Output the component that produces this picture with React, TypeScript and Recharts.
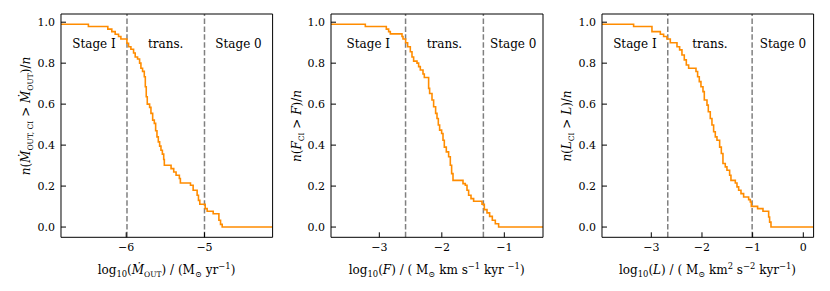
import React from "react"
import { LineChart, Line, XAxis, YAxis, ReferenceLine, ReferenceArea } from "recharts"

// ---- data (log10 value where the fraction steps, fraction after the step)
const mdotX = [-6.833, -6.483, -6.235, -6.184, -6.141, -6.098, -6.068, -5.991, -5.97, -5.94, -5.906, -5.885, -5.855, -5.829, -5.812, -5.791, -5.769, -5.756, -5.744, -5.731, -5.701, -5.684, -5.662, -5.641, -5.624, -5.607, -5.59, -5.573, -5.556, -5.538, -5.521, -5.513, -5.427, -5.393, -5.363, -5.321, -5.308, -5.179, -5.145, -5.094, -5.077, -5.06, -4.991, -4.966, -4.889, -4.816, -4.795, -4.774, -4.13]
const mdotFrac = [0.99, 0.979, 0.966, 0.954, 0.941, 0.93, 0.918, 0.897, 0.88, 0.868, 0.85, 0.83, 0.82, 0.8, 0.775, 0.76, 0.734, 0.685, 0.636, 0.6, 0.584, 0.555, 0.522, 0.506, 0.47, 0.44, 0.416, 0.395, 0.375, 0.356, 0.33, 0.302, 0.285, 0.269, 0.253, 0.237, 0.215, 0.204, 0.18, 0.155, 0.13, 0.111, 0.09, 0.077, 0.065, 0.033, 0.013, 0, 0]

const forceX = [-3.773, -3.224, -2.888, -2.851, -2.824, -2.637, -2.621, -2.579, -2.547, -2.504, -2.477, -2.451, -2.397, -2.371, -2.344, -2.301, -2.28, -2.211, -2.195, -2.157, -2.131, -2.099, -2.077, -2.056, -2.035, -2.003, -1.981, -1.96, -1.928, -1.891, -1.864, -1.843, -1.821, -1.661, -1.624, -1.597, -1.571, -1.533, -1.491, -1.357, -1.32, -1.277, -1.235, -1.192, -1.144, -1.091, -0.381]
const forceFrac = [0.99, 0.979, 0.966, 0.954, 0.943, 0.93, 0.918, 0.9, 0.88, 0.856, 0.83, 0.81, 0.8, 0.783, 0.767, 0.747, 0.73, 0.677, 0.652, 0.62, 0.587, 0.555, 0.53, 0.498, 0.473, 0.457, 0.424, 0.39, 0.367, 0.343, 0.302, 0.261, 0.228, 0.212, 0.204, 0.18, 0.155, 0.139, 0.126, 0.111, 0.085, 0.069, 0.052, 0.033, 0.016, 0, 0]

const lumX = [-3.974, -3.349, -2.987, -2.822, -2.757, -2.691, -2.625, -2.493, -2.441, -2.395, -2.349, -2.309, -2.263, -2.118, -2.086, -2.053, -2.02, -1.98, -1.954, -1.901, -1.875, -1.836, -1.803, -1.77, -1.737, -1.704, -1.651, -1.618, -1.586, -1.54, -1.507, -1.454, -1.428, -1.342, -1.309, -1.276, -1.23, -1.178, -1.079, -1.046, -1.026, -0.902, -0.796, -0.684, -0.665, -0.638, 0.203]
const lumFrac = [0.99, 0.979, 0.954, 0.941, 0.93, 0.918, 0.9, 0.88, 0.865, 0.84, 0.816, 0.791, 0.775, 0.759, 0.734, 0.71, 0.685, 0.661, 0.62, 0.595, 0.563, 0.53, 0.498, 0.465, 0.44, 0.424, 0.39, 0.359, 0.31, 0.294, 0.277, 0.253, 0.228, 0.215, 0.196, 0.18, 0.163, 0.147, 0.134, 0.122, 0.101, 0.09, 0.077, 0.049, 0.024, 0, 0]

const mdotTicks = [-6, -5]
const forceTicks = [-3, -2, -1]
const lumTicks = [-3, -2, -1, 0]
const fracTicks = [0, 0.2, 0.4, 0.6, 0.8, 1.0]

// stage boundaries (Stage I | trans. | Stage 0)
const mdotBounds = [-5.99, -5.0]
const forceBounds = [-2.58, -1.335]
const lumBounds = [-2.675, -1.01]
const stageNames = ["Stage I", "trans.", "Stage 0"]

const serif = "'DejaVu Serif', 'DejaVu Sans', serif"
const PLOT_TOP = 14
const PLOT_BOTTOM = 237.3
const H = 291

const fmtX = (v: number) => (v < 0 ? `\u2212${-v}` : `${v}`)

type Part = { t: string; s?: "sub" | "sup"; i?: boolean; fs?: number }

function rich(parts: Part[], base: number) {
  let cur = 0
  return parts.map((p, k) => {
    const target = p.s === "sub" ? base * 0.3 : p.s === "sup" ? -base * 0.4 : 0
    const dy = target - cur
    cur = target
    return (
      <tspan key={k} dy={dy} fontStyle={p.i ? "italic" : undefined} fontSize={p.fs ?? (p.s ? base * 0.7 : base)}>
        {p.t}
      </tspan>
    )
  })
}

const xLabels: Part[][] = [
  [{ t: "log" }, { t: "10", s: "sub" }, { t: "(" }, { t: "Ṁ", i: true }, { t: "OUT", s: "sub", fs: 7.5 }, { t: ") / (M" }, { t: "⊙", s: "sub" }, { t: " yr" }, { t: "−1", s: "sup" }, { t: ")" }],
  [{ t: "log" }, { t: "10", s: "sub" }, { t: "(" }, { t: "F", i: true }, { t: ") / ( M" }, { t: "⊙", s: "sub" }, { t: " km s" }, { t: "−1", s: "sup" }, { t: " kyr " }, { t: "−1", s: "sup" }, { t: ")" }],
  [{ t: "log" }, { t: "10", s: "sub" }, { t: "(" }, { t: "L", i: true }, { t: ") / ( M" }, { t: "⊙", s: "sub" }, { t: " km" }, { t: "2", s: "sup" }, { t: " s" }, { t: "−2", s: "sup" }, { t: " kyr" }, { t: "−1", s: "sup" }, { t: ")" }],
]

const yLabels: Part[][] = [
  [{ t: "n", i: true }, { t: "(" }, { t: "Ṁ", i: true }, { t: "OUT, CI", s: "sub", fs: 7.5 }, { t: " > " }, { t: "Ṁ", i: true }, { t: "OUT", s: "sub", fs: 7.5 }, { t: ")/" }, { t: "n", i: true }],
  [{ t: "n", i: true }, { t: "(" }, { t: "F", i: true }, { t: "CI", s: "sub", fs: 7.5 }, { t: " > " }, { t: "F", i: true }, { t: ")/" }, { t: "n", i: true }],
  [{ t: "n", i: true }, { t: "(" }, { t: "L", i: true }, { t: "CI", s: "sub", fs: 7.5 }, { t: " > " }, { t: "L", i: true }, { t: ")/" }, { t: "n", i: true }],
]

type PanelProps = {
  xs: number[]
  fracs: number[]
  domain: [number, number]
  ticks: number[]
  bounds: number[]
  plotLeft: number
  plotRight: number
}

function Panel({ xs, fracs, domain, ticks, bounds, plotLeft, plotRight }: PanelProps) {
  const data = xs.map((x, i) => ({ x, frac: fracs[i] }))
  const padL = 50
  const padR = 6
  const plotW = plotRight - plotLeft
  const width = plotW + padL + padR
  const edges = [domain[0], ...bounds, domain[1]]
  const tickFont = { fill: "#000", fontSize: 11, fontFamily: serif }
  return (
    <div style={{ position: "absolute", left: plotLeft - padL, top: 0 }}>
      <LineChart
        width={width}
        height={H}
        data={data}
        margin={{ top: PLOT_TOP - 1, right: padR - 1, left: padL - 40, bottom: H - PLOT_BOTTOM - 30 }}
      >
        <XAxis
          xAxisId="b"
          dataKey="x"
          type="number"
          domain={domain}
          allowDataOverflow
          ticks={ticks}
          tickFormatter={fmtX}
          height={30}
          stroke="#000"
          axisLine={{ stroke: "#000", strokeWidth: 1 }}
          tickLine={{ stroke: "#000" }}
          tickSize={-5}
          tickMargin={11}
          tick={tickFont}
        />
        <XAxis
          xAxisId="t"
          orientation="top"
          dataKey="x"
          type="number"
          domain={domain}
          allowDataOverflow
          ticks={ticks}
          height={1}
          stroke="#000"
          axisLine={{ stroke: "#000", strokeWidth: 1 }}
          tickLine={{ stroke: "#000" }}
          tickSize={-5}
          tick={false}
        />
        <YAxis
          yAxisId="l"
          type="number"
          domain={[-0.05, 1.04]}
          allowDataOverflow
          ticks={fracTicks}
          tickFormatter={(v: number) => v.toFixed(1)}
          width={40}
          stroke="#000"
          axisLine={{ stroke: "#000", strokeWidth: 1 }}
          tickLine={{ stroke: "#000" }}
          tickSize={-5}
          tickMargin={11}
          tick={tickFont}
        />
        <YAxis
          yAxisId="r"
          orientation="right"
          type="number"
          domain={[-0.05, 1.04]}
          allowDataOverflow
          ticks={fracTicks}
          width={1}
          stroke="#000"
          axisLine={{ stroke: "#000", strokeWidth: 1 }}
          tickLine={{ stroke: "#000" }}
          tickSize={-5}
          tick={false}
        />
        {stageNames.map((name, i) => (
          <ReferenceArea
            key={name}
            xAxisId="b"
            yAxisId="l"
            x1={edges[i]}
            x2={edges[i + 1]}
            fill="none"
            fillOpacity={0}
            stroke="none"
            label={{ value: name, position: "insideTop", offset: 25, fill: "#000", fontSize: 12, fontFamily: serif }}
          />
        ))}
        {bounds.map((b) => (
          <ReferenceLine key={b} xAxisId="b" yAxisId="l" x={b} stroke="#808080" strokeWidth={1.5} strokeDasharray="5.5 2.4" />
        ))}
        <Line
          xAxisId="b"
          yAxisId="l"
          type="stepAfter"
          dataKey="frac"
          stroke="#ff8c00"
          strokeWidth={1.6}
          dot={false}
          isAnimationActive={false}
        />
      </LineChart>
    </div>
  )
}

const boxes = [
  { left: 60.7, right: 272.3, ylabelX: 26, ylabelY: 116 },
  { left: 330.7, right: 542.7, ylabelX: 297, ylabelY: 126 },
  { left: 601.7, right: 813.3, ylabelX: 567, ylabelY: 126 },
]

export default function App() {
  const series = [
    { xs: mdotX, fracs: mdotFrac, domain: [-6.833, -4.13] as [number, number], ticks: mdotTicks, bounds: mdotBounds },
    { xs: forceX, fracs: forceFrac, domain: [-3.773, -0.381] as [number, number], ticks: forceTicks, bounds: forceBounds },
    { xs: lumX, fracs: lumFrac, domain: [-3.973, 0.203] as [number, number], ticks: lumTicks, bounds: lumBounds },
  ]
  return (
    <div style={{ position: "absolute", left: 0, top: 0, width: 830, height: H, background: "#fff" }}>
      {series.map((s, i) => (
        <Panel key={i} {...s} plotLeft={boxes[i].left} plotRight={boxes[i].right} />
      ))}
      <svg width={830} height={H} style={{ position: "absolute", left: 0, top: 0, pointerEvents: "none" }}>
        {boxes.map((b, i) => (
          <g key={i} fontFamily={serif} fill="#000" style={{ whiteSpace: "pre" }}>
            <text x={(b.left + b.right) / 2} y={273.5} textAnchor="middle" fontSize={12}>
              {rich(xLabels[i], 12)}
            </text>
            <text
              x={b.ylabelX}
              y={b.ylabelY}
              textAnchor="middle"
              dominantBaseline="central"
              fontSize={12}
              transform={`rotate(-90, ${b.ylabelX}, ${b.ylabelY})`}
            >
              {rich(yLabels[i], 12)}
            </text>
          </g>
        ))}
      </svg>
    </div>
  )
}
